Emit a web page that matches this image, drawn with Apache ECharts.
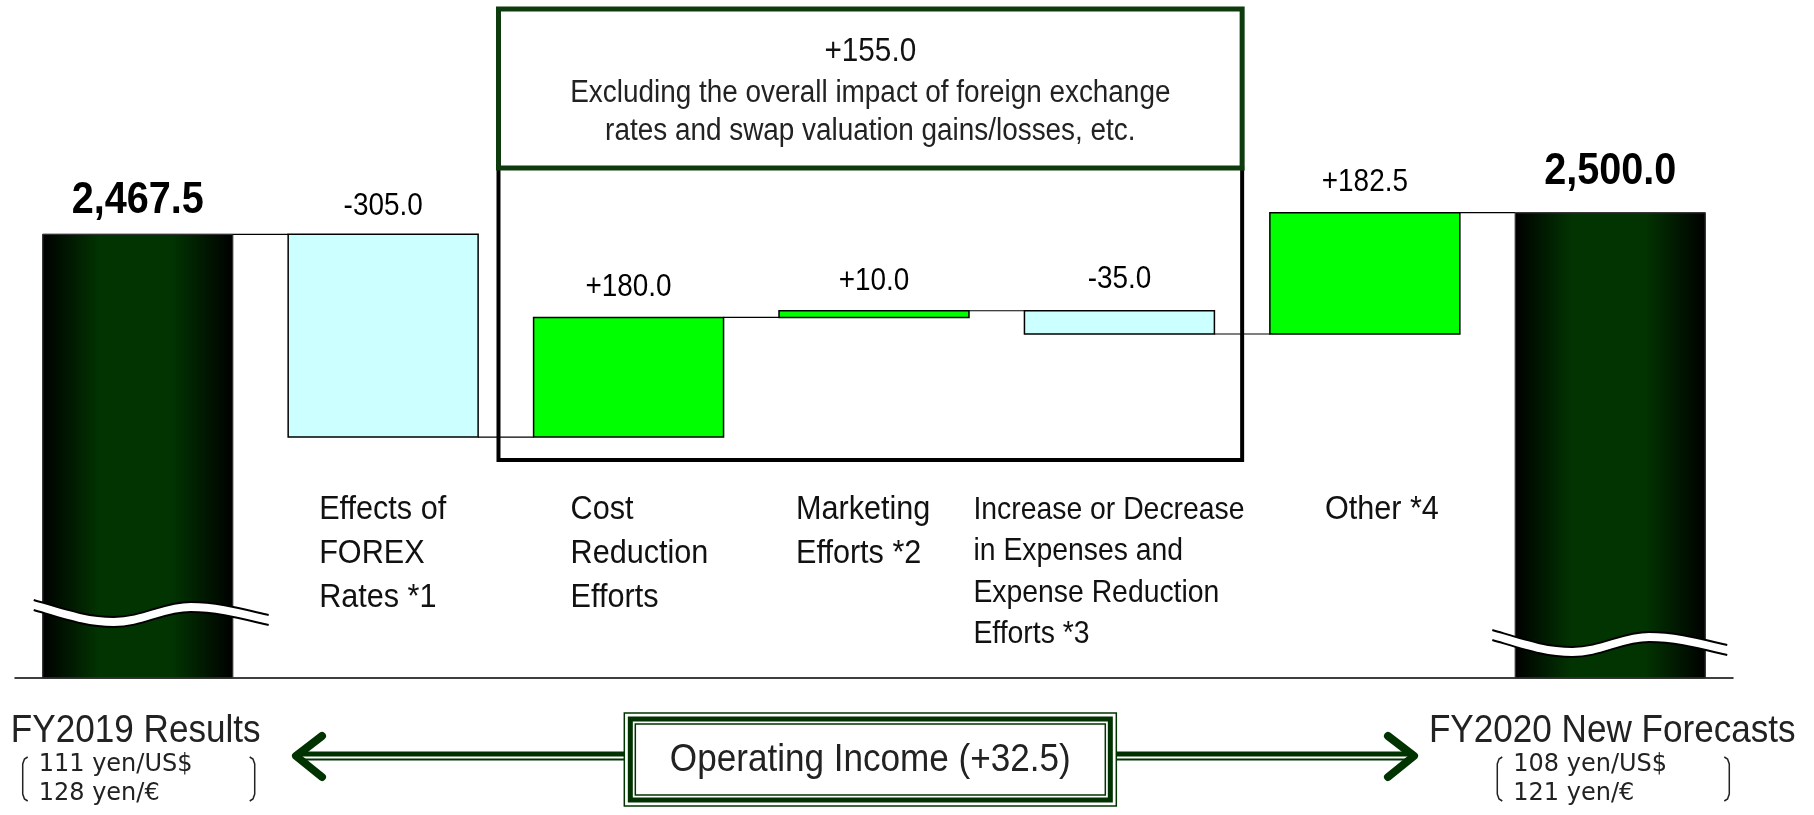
<!DOCTYPE html>
<html>
<head>
<meta charset="utf-8">
<script src="https://cdn.jsdelivr.net/npm/echarts@6/dist/echarts.min.js"></script>
<style>
  html, body { margin: 0; padding: 0; background: #fff; }
  #main { width: 1814px; height: 815px; }
</style>
</head>
<body>
<div id="main"></div>
<script>
// ---- data ----
const categories = ['FY2019 Results', 'Effects of FOREX Rates *1', 'Cost Reduction Efforts',
  'Marketing Efforts *2', 'Increase or Decrease in Expenses and Expense Reduction Efforts *3',
  'Other *4', 'FY2020 New Forecasts'];
const categoryLines = [
  ['FY2019 Results'],
  ['Effects of', 'FOREX', 'Rates *1'],
  ['Cost', 'Reduction', 'Efforts'],
  ['Marketing', 'Efforts *2'],
  ['Increase or Decrease', 'in Expenses and', 'Expense Reduction', 'Efforts *3'],
  ['Other *4'],
  ['FY2020 New Forecasts']
];
const startValue = 2467.5;
const changes = [-305.0, 180.0, 10.0, -35.0, 182.5];
const endValue = 2500.0;
const valueLabels = ['2,467.5', '-305.0', '+180.0', '+10.0', '-35.0', '+182.5', '2,500.0'];
const groupLabel = '+155.0';
const groupNote = ['Excluding the overall impact of foreign exchange', 'rates and swap valuation gains/losses, etc.'];
const totalLabel = 'Operating Income (+32.5)';
const rates2019 = ['111 yen/US$', '128 yen/€'];
const rates2020 = ['108 yen/US$', '121 yen/€'];
const yMin = 1800, yMax = 2820;

// ---- layout ----
const BAR_RATIO = 0.774;
const LABEL_LIFT = [33, 28, 30, 29, 31, 30, 41];
const CAT_DX = [0, 31, 37, 17, -51, 55, 0];
const WAVE_RISE = [78, 0, 0, 0, 0, 0, 48];
const WAVE_SHIFT = [0, 0, 0, 0, 0, 0, -14];
const GREEN = '#003300';

// narrow font check, fall back to squeezed Liberation Sans
function hasFont(name) {
  const c = document.createElement('canvas').getContext('2d');
  const s = 'abcdefghijklmnopqrstuvwxyz0123456789';
  c.font = '40px monospace';
  const a = c.measureText(s).width;
  c.font = '40px "' + name + '", monospace';
  return c.measureText(s).width !== a;
}
const narrow = hasFont('Liberation Sans Narrow');
const FONT = narrow ? '"Liberation Sans Narrow", sans-serif' : '"Liberation Sans", sans-serif';
const SX = narrow ? 1.1 : 0.9;

function textEl(x, y, text, size, opt) {
  opt = opt || {};
  return {
    type: 'text', x: x, y: y, scaleX: opt.wide ? 1 : SX, z: 20,
    style: {
      text: text, fontSize: size, fontFamily: opt.wide ? '"DejaVu Sans", sans-serif' : FONT,
      fontWeight: opt.bold ? 'bold' : 'normal', fill: opt.color || '#111',
      align: opt.align || 'center', verticalAlign: opt.valign || 'middle',
      lineHeight: opt.lineHeight
    }
  };
}

// waterfall rows: [index, low, high, kind, levelAfter]
const barData = [];
let run = startValue;
barData.push([0, yMin, startValue, 0, startValue]);
changes.forEach(function (d, k) {
  const next = run + d;
  barData.push([k + 1, Math.min(run, next), Math.max(run, next), d > 0 ? 1 : -1, next]);
  run = next;
});
barData.push([categories.length - 1, yMin, endValue, 0, endValue]);

function wavePath(L, bw, y0, off) {
  const k = bw / 190;
  const X = function (v) { return L + v * k; };
  return 'M' + X(-9) + ',' + (y0 + off) +
    ' C' + X(25) + ',' + (y0 + 10 + off) + ' ' + X(45) + ',' + (y0 + 17 + off) + ' ' + X(71) + ',' + (y0 + 17 + off) +
    ' C' + X(100) + ',' + (y0 + 17 + off) + ' ' + X(120) + ',' + (y0 + 2 + off) + ' ' + X(148) + ',' + (y0 + 2 + off) +
    ' C' + X(175) + ',' + (y0 + 2 + off) + ' ' + X(200) + ',' + (y0 + 9 + off) + ' ' + X(226) + ',' + (y0 + 15 + off);
}
function waveFill(L, bw, y0) {
  const k = bw / 190;
  const X = function (v) { return L + v * k; };
  const o = 10;
  return wavePath(L, bw, y0, 0) +
    ' L' + X(226) + ',' + (y0 + 15 + o) +
    ' C' + X(200) + ',' + (y0 + 9 + o) + ' ' + X(175) + ',' + (y0 + 2 + o) + ' ' + X(148) + ',' + (y0 + 2 + o) +
    ' C' + X(120) + ',' + (y0 + 2 + o) + ' ' + X(100) + ',' + (y0 + 17 + o) + ' ' + X(71) + ',' + (y0 + 17 + o) +
    ' C' + X(45) + ',' + (y0 + 17 + o) + ' ' + X(25) + ',' + (y0 + 10 + o) + ' ' + X(-9) + ',' + (y0 + o) + ' Z';
}

function renderBars(params, api) {
  const i = api.value(0);
  const lo = api.value(1), hi = api.value(2), kind = api.value(3), level = api.value(4);
  const band = api.size([1, 0])[0];
  const bw = band * BAR_RATIO;
  const top = api.coord([i, hi]);
  const bot = api.coord([i, lo]);
  const baseY = api.coord([i, yMin])[1];
  const x = top[0] - bw / 2;
  const children = [];
  let fill;
  if (kind === 0) {
    fill = new echarts.graphic.LinearGradient(0, 0, 1, 0, [
      { offset: 0, color: '#000000' },
      { offset: 0.3, color: '#023402' },
      { offset: 0.68, color: '#023402' },
      { offset: 1, color: '#000000' }
    ]);
  } else {
    fill = kind > 0 ? '#00ff00' : '#ccffff';
  }
  children.push({
    type: 'rect', shape: { x: x, y: top[1], width: bw, height: bot[1] - top[1] },
    style: { fill: fill, stroke: kind === 0 ? '#333' : '#000', lineWidth: kind === 0 ? 1 : 1.5 }
  });
  if (kind === 0) {
    const y0 = baseY - WAVE_RISE[i];
    const wx = x + WAVE_SHIFT[i];
    children.push({ type: 'path', shape: { pathData: waveFill(wx, bw, y0) }, style: { fill: '#fff', stroke: null } });
    children.push({ type: 'path', shape: { pathData: wavePath(wx, bw, y0, 0) }, style: { fill: null, stroke: '#000', lineWidth: 2 } });
    children.push({ type: 'path', shape: { pathData: wavePath(wx, bw, y0, 10) }, style: { fill: null, stroke: '#000', lineWidth: 2 } });
  }
  if (i < categories.length - 1) {
    const ly = api.coord([i, level])[1];
    children.push({
      type: 'line', shape: { x1: x + bw, y1: ly, x2: x + band, y2: ly },
      style: { stroke: '#000', lineWidth: 1.2 }
    });
  }
  children.push(textEl(top[0], top[1] - LABEL_LIFT[i], valueLabels[i], kind === 0 ? 44 : 31,
    { bold: kind === 0, color: '#000' }));
  if (kind !== 0) {
    const lines = categoryLines[i];
    const many = lines.length > 3;
    const lh = many ? 41.5 : 44;
    children.push(textEl(x + CAT_DX[i], baseY - 168 - lh / 2, lines.join('\n'), many ? 31.5 : 34,
      { align: 'left', valign: 'top', lineHeight: lh }));
  }
  return { type: 'group', children: children };
}

const chart = echarts.init(document.getElementById('main'));
chart.setOption({
  animation: false,
  backgroundColor: '#fff',
  grid: { left: 15, right: 81, top: 0, bottom: 137 },
  xAxis: {
    type: 'category', data: categories,
    axisLine: { onZero: false, lineStyle: { color: '#000', width: 1.5 } },
    axisTick: { show: false }, axisLabel: { show: false }, splitLine: { show: false }
  },
  yAxis: { type: 'value', min: yMin, max: yMax, show: false, splitLine: { show: false } },
  series: [{
    type: 'custom', renderItem: renderBars, data: barData,
    encode: { x: 0, y: [1, 2] }, clip: false
  }]
});

// annotations placed from the category bands
const pt = function (i) { return chart.convertToPixel({ gridIndex: 0 }, [i, yMin]); };
const band = pt(3)[0] - pt(2)[0];
const boxL = pt(2)[0] - 0.53 * band, boxR = pt(4)[0] + 0.5 * band, boxC = (boxL + boxR) / 2;
const c0 = pt(0)[0], c6 = pt(6)[0];

function bracket(x, top, bot, dir) {
  const d = 5 * dir;
  return {
    type: 'polyline', z: 20,
    shape: { points: [[x + d, top], [x + d * 0.35, top + 2], [x, top + 7], [x, bot - 7], [x + d * 0.35, bot - 2], [x + d, bot]] },
    style: { fill: null, stroke: '#222', lineWidth: 1.5 }
  };
}
function arrow(tipX, fromX, dir) {
  return [
    { type: 'rect', shape: { x: Math.min(tipX + 4 * dir, fromX), y: 751.5, width: Math.abs(fromX - tipX - 4 * dir), height: 5 }, style: { fill: GREEN } },
    { type: 'rect', shape: { x: Math.min(tipX + 8 * dir, fromX), y: 758.5, width: Math.abs(fromX - tipX - 8 * dir), height: 2 }, style: { fill: GREEN } },
    { type: 'polyline', shape: { points: [[tipX + 26 * dir, 736], [tipX, 756], [tipX + 26 * dir, 777]] },
      style: { fill: null, stroke: GREEN, lineWidth: 8, lineCap: 'round', lineJoin: 'round' } }
  ];
}
function rateBlock(cx, lines) {
  return [
    bracket(cx - 115, 757, 801, 1), bracket(cx + 117, 757, 801, -1),
    textEl(cx - 99, 765, lines[0], 24, { wide: true, align: 'left', color: '#222' }),
    textEl(cx - 99, 794, lines[1], 24, { wide: true, align: 'left', color: '#222' })
  ];
}

const opL = boxC - 246, opW = 492, opT = 713, opH = 93;
let graphics = [
  { type: 'rect', shape: { x: boxL, y: 168, width: boxR - boxL, height: 292 }, style: { fill: null, stroke: '#000', lineWidth: 4 } },
  { type: 'rect', shape: { x: boxL, y: 9, width: boxR - boxL, height: 159 }, style: { fill: '#fff', stroke: '#0d3b0d', lineWidth: 5 } },
  textEl(boxC, 52, groupLabel, 33),
  textEl(boxC, 93, groupNote[0], 31, { color: '#222' }),
  textEl(boxC, 131, groupNote[1], 31, { color: '#222' })
];
graphics = graphics.concat(arrow(296, boxC - 246, 1), arrow(1414, boxC + 246, -1));
graphics = graphics.concat([
  { type: 'rect', shape: { x: opL, y: opT, width: opW, height: opH }, style: { fill: '#fff', stroke: GREEN, lineWidth: 1.5 } },
  { type: 'rect', shape: { x: opL + 6, y: opT + 6, width: opW - 12, height: opH - 12 }, style: { fill: null, stroke: GREEN, lineWidth: 5 } },
  { type: 'rect', shape: { x: opL + 11, y: opT + 11, width: opW - 22, height: opH - 22 }, style: { fill: null, stroke: GREEN, lineWidth: 1.5 } },
  textEl(boxC, 760, totalLabel, 39, { color: '#222' }),
  textEl(c0 - 2, 731, categoryLines[0][0], 39, { color: '#222' }),
  textEl(c6 + 2, 731, categoryLines[6][0], 39, { color: '#222' })
]);
graphics = graphics.concat(rateBlock(c0, rates2019), rateBlock(c6 + 2, rates2020));
chart.setOption({ graphic: graphics });
</script>
</body>
</html>
